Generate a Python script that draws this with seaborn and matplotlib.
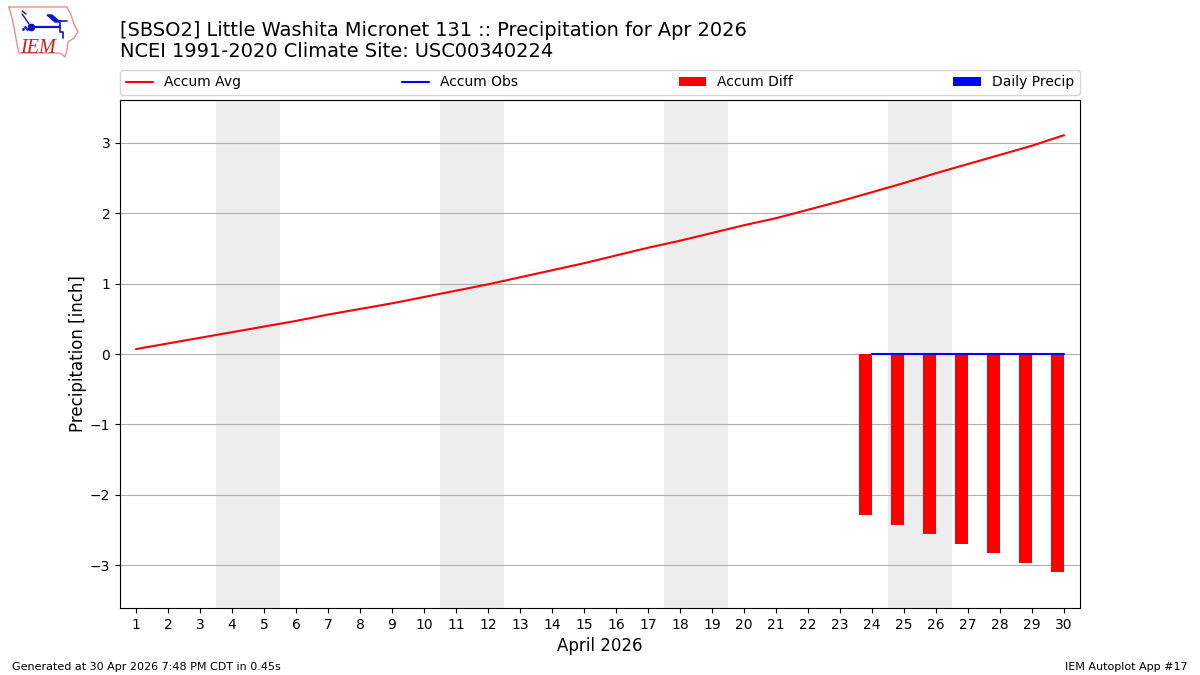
import matplotlib
matplotlib.use("Agg")
import matplotlib.pyplot as plt
import numpy as np
import pandas as pd
import seaborn as sns

days = list(range(1, 31))
accum_avg = [0.07, 0.15, 0.23, 0.31, 0.39, 0.47, 0.56, 0.64, 0.72, 0.81,
             0.90, 0.99, 1.09, 1.19, 1.29, 1.40, 1.51, 1.61, 1.72, 1.83,
             1.93, 2.05, 2.17, 2.30, 2.43, 2.57, 2.70, 2.83, 2.96, 3.11]
obs_days = [24, 25, 26, 27, 28, 29, 30]
accum_obs = [0, 0, 0, 0, 0, 0, 0]
accum_diff = [-2.29, -2.43, -2.56, -2.70, -2.83, -2.97, -3.10]
daily_precip = [0, 0, 0, 0, 0, 0, 0]
weekends = [(3.5, 5.5), (10.5, 12.5), (17.5, 19.5), (24.5, 26.5)]
y_ticks = [-3, -2, -1, 0, 1, 2, 3]

sns.set_style("ticks", {"font.family": "DejaVu Sans"})
plt.rcParams["font.family"] = ["DejaVu Sans"]
plt.rcParams["text.color"] = "black"
plt.rcParams["axes.labelcolor"] = "black"
plt.rcParams["xtick.color"] = "black"
plt.rcParams["ytick.color"] = "black"
plt.rcParams["patch.force_edgecolor"] = False

fig = plt.figure(figsize=(12, 6.75), dpi=100)
ax = fig.add_axes([120 / 1200, 1 - 608 / 675, 960 / 1200, 508 / 675])

# weekend shading
for start, end in weekends:
    ax.axvspan(start, end, color="#ededed", lw=0, zorder=0)

# bars end on the day tick, so they hang to the left of it
ax.bar(obs_days, accum_diff, width=-0.4, align="edge", color="red",
       label="Accum Diff", zorder=2)
ax.bar(obs_days, daily_precip, width=-0.4, align="edge", color="b",
       label="Daily Precip", zorder=2)

avg_df = pd.DataFrame({"day": days, "value": accum_avg})
obs_df = pd.DataFrame({"day": obs_days, "value": accum_obs})
sns.lineplot(data=avg_df, x="day", y="value", color="red", lw=1.5,
             label="Accum Avg", ax=ax, zorder=3)
sns.lineplot(data=obs_df, x="day", y="value", color="b", lw=1.5,
             label="Accum Obs", ax=ax, zorder=3)

ax.set_xlim(0.5, 30.5)
ax.set_ylim(-3.61, 3.61)
ax.set_xticks(days)
ax.set_yticks(y_ticks)
ax.tick_params(axis="both", labelsize=10, length=3.5, width=0.8, direction="out")
ax.grid(True, axis="y", color="#b0b0b0", lw=0.8)
ax.set_axisbelow(True)
ax.set_xlabel("April 2026", fontsize=12)
ax.set_ylabel("Precipitation [inch]", fontsize=12, labelpad=2)
for spine in ax.spines.values():
    spine.set_visible(True)
    spine.set_linewidth(0.8)
    spine.set_color("black")

handles, labels = ax.get_legend_handles_labels()
order = ["Accum Avg", "Accum Obs", "Accum Diff", "Daily Precip"]
lookup = dict(zip(labels, handles))
ax.legend([lookup[n] for n in order], order, ncol=4, mode="expand",
          loc="lower left", bbox_to_anchor=(0, 1 + 5 / 508, 1, 0),
          borderaxespad=0, fontsize=10, frameon=True)

fig.text(120 / 1200, 1 - 61 / 675,
         "[SBSO2] Little Washita Micronet 131 :: Precipitation for Apr 2026\n"
         "NCEI 1991-2020 Climate Site: USC00340224",
         fontsize=13.95, ha="left", va="bottom", linespacing=1.15)
fig.text(12 / 1200, 1 - 670 / 675, "Generated at 30 Apr 2026 7:48 PM CDT in 0.45s",
         fontsize=8, ha="left", va="baseline")
fig.text(1188 / 1200, 1 - 670 / 675, "IEM Autoplot App #17",
         fontsize=8, ha="right", va="baseline")

# logo, drawn in pixel coordinates
logo = fig.add_axes([0, 1 - 60 / 675, 85 / 1200, 60 / 675])
logo.set_xlim(0, 85)
logo.set_ylim(60, 0)
logo.axis("off")
outline_x = [9, 67, 71, 74, 78, 74, 68, 67, 65, 60, 19, 17, 14, 12, 9]
outline_y = [7, 7, 15, 24, 32, 38, 42, 50, 57, 53, 53, 44, 27, 18, 7]
logo.plot(outline_x, outline_y, color="#e89090", lw=1)
logo.plot([31, 60], [27, 27], color="#1010d0", lw=1.6)
logo.plot([31], [27], "o", color="#1010d0", ms=4.5)
logo.plot([31, 25, 22], [27, 18, 14], color="#1010d0", lw=1)
logo.plot([22, 26], [11, 14], color="#1010d0", lw=1)
logo.fill([47, 52, 60, 55], [15, 15, 22, 22], color="#1010d0")
logo.plot([55, 67], [21, 21], color="#1010d0", lw=1.2)
logo.plot([60, 60, 63, 63], [21, 32, 32, 38], color="#1010d0", lw=1.2)
logo.plot([23, 25, 27], [29, 27, 29], ".", color="#1010d0", ms=2)
logo.text(20, 53, "IEM", family="Liberation Serif", style="italic",
          color="#d02020", fontsize=14.5, ha="left", va="baseline")

fig.savefig("out.png", dpi=100)
